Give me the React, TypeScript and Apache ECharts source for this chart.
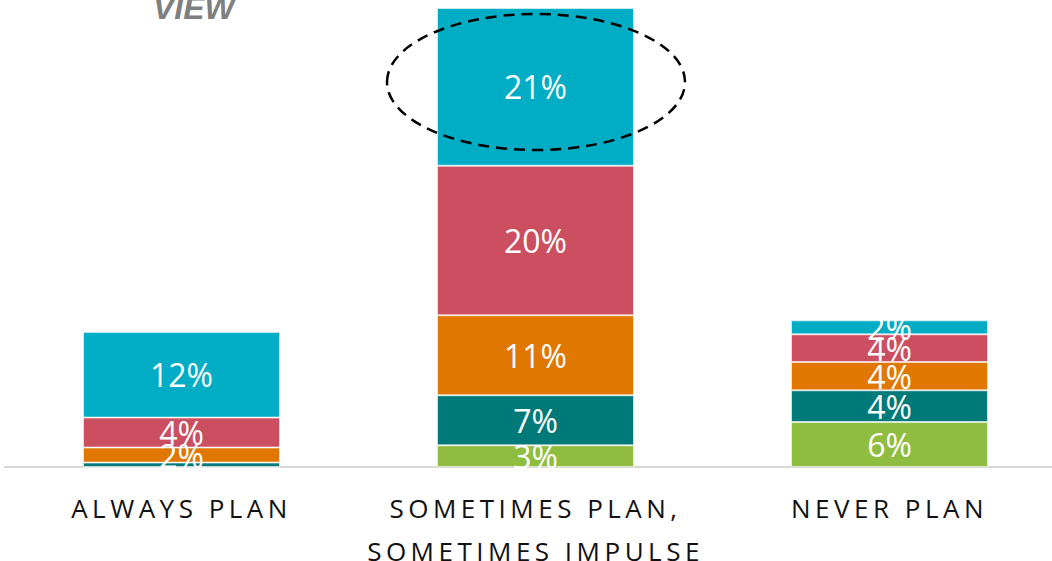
import React, { useEffect, useRef } from "react";
import * as echarts from "echarts";

const categories = ["ALWAYS PLAN", "SOMETIMES PLAN,\nSOMETIMES IMPULSE", "NEVER PLAN"];
const seriesNames = ["Green", "Teal", "Orange", "Red", "Cyan"];
const greenValues = [0, 2.93, 6.08];
const tealValues = [0.6, 6.76, 4.28];
const orangeValues = [2.03, 10.8, 3.82];
const redValues = [4.05, 20.2, 3.74];
const cyanValues = [11.57, 21.3, 1.89];
const colors = ["#8FBD40", "#007A78", "#DF7700", "#CB4F61", "#00ADC5"];
const yMax = 62;
const titleText = "VIEW";

const axisLabelLines = new Set(["ALWAYS PLAN", "SOMETIMES PLAN,", "SOMETIMES IMPULSE", "NEVER PLAN"]);

export default function App() {
  const ref = useRef<HTMLDivElement>(null);
  useEffect(() => {
    document.body.style.margin = "0";
    document.body.style.overflow = "hidden";
    document.documentElement.style.overflow = "hidden";
    if (!ref.current) return;
    const chart = echarts.init(ref.current, null, { renderer: "svg", width: 1052, height: 561 });
    const all = [greenValues, tealValues, orangeValues, redValues, cyanValues];
    const series = all.map((vals, i) => ({
      name: seriesNames[i],
      type: "bar",
      stack: "total",
      barWidth: 197,
      data: vals,
      itemStyle: {
        color: colors[i],
        borderColor: "rgba(255,255,255,0.55)",
        borderWidth: 1,
      },
      label: {
        show: true,
        position: "inside",
        color: "#ffffff",
        fontFamily: "Open Sans",
        fontSize: 32,
        formatter: (p: any) => (p.value >= 1 ? Math.round(p.value) + "%" : ""),
      },
    }));
    chart.setOption({
      animation: false,
      backgroundColor: "#ffffff",
      grid: { left: 4.5, width: 1062, top: 8, bottom: 94, containLabel: false, outerBoundsMode: "none" },
      xAxis: {
        type: "category",
        data: categories,
        axisLine: { show: true, lineStyle: { color: "#D9D9D9", width: 2 } },
        axisTick: { show: false },
        axisLabel: {
          interval: 0,
          margin: 19,
          color: "#111111",
          fontFamily: "Open Sans",
          fontSize: 26,
          lineHeight: 43,
        },
      },
      yAxis: {
        type: "value",
        min: 0,
        max: yMax,
        show: false,
        splitLine: { show: false },
      },
      graphic: [
        {
          type: "text",
          left: 153,
          top: -8,
          z: 10,
          style: {
            text: titleText,
            fill: "#7F7F7F",
            fontFamily: "Liberation Sans",
            fontWeight: "bold",
            fontStyle: "italic",
            fontSize: 32,
          },
        },
        {
          type: "ellipse",
          z: 100,
          shape: { cx: 536, cy: 82, rx: 149, ry: 68 },
          style: { fill: "none", stroke: "#000000", lineWidth: 2.5, lineDash: [11, 7] },
        },
      ],
      series,
    });
    const applySpacing = () => {
      const dom = chart.getDom();
      dom.querySelectorAll("text").forEach((t) => {
        const s = (t.textContent || "").trim();
        if (axisLabelLines.has(s)) t.setAttribute("letter-spacing", "4.5");
      });
    };
    applySpacing();
    chart.on("finished", applySpacing);
    const tid = setTimeout(applySpacing, 50);
    return () => {
      clearTimeout(tid);
      chart.dispose();
    };
  }, []);
  return <div ref={ref} style={{ width: 1052, height: 561 }} />;
}
